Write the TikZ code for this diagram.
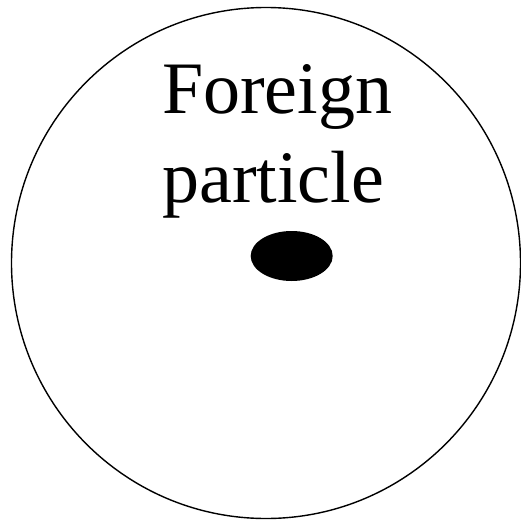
\documentclass[tikz,border=0pt]{standalone}
\usepackage{fontspec}
\setmainfont{Liberation Serif}
\begin{document}
\begin{tikzpicture}[x=1pt,y=-1pt,
  label text/.style={inner sep=0pt, anchor=base west, font=\fontsize{74}{89}\selectfont},
  outline/.style={draw=black, line width=1.4pt},
  blob/.style={fill=black}]
\useasboundingbox (0,0) rectangle (521,522);
\path[outline] (266,263) ellipse [x radius=254.5, y radius=255.5];
\node[label text] (w1) at (162,113) {Foreign};
\node[label text] (w2) at (162,202) {particle};
\path[blob] (291.7,256) ellipse [x radius=41, y radius=25];
\end{tikzpicture}
\end{document}
